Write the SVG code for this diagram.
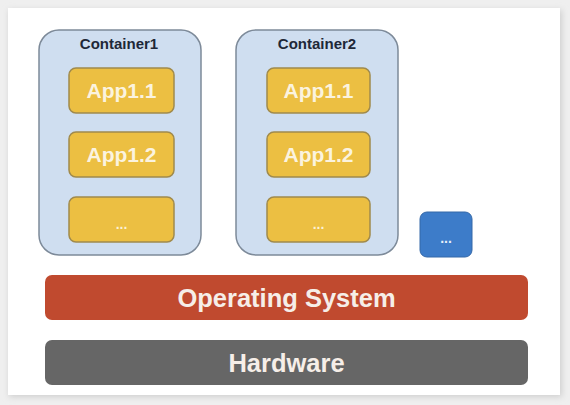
<svg xmlns="http://www.w3.org/2000/svg" width="570" height="405" viewBox="0 0 570 405">
<defs>
<style>
.container{fill:#cfdef0;stroke:#7d8a99;stroke-width:1.5}
.app{fill:#ecbf42;stroke:#a08a4c;stroke-width:1.5}
.title{font-family:"Liberation Sans",Arial,sans-serif;font-weight:bold;font-size:15px;fill:#1e2838;text-anchor:middle}
.apptxt{font-family:"Liberation Sans",Arial,sans-serif;font-weight:bold;font-size:21px;fill:#fbf3df;text-anchor:middle}
.dots{font-family:"Liberation Sans",Arial,sans-serif;font-weight:bold;font-size:14px;fill:#fbf0d4;text-anchor:middle}
.bartxt{font-family:"Liberation Sans",Arial,sans-serif;font-weight:bold;font-size:25.5px;fill:#f6eee8;text-anchor:middle}
</style>
<filter id="sh" x="-5%" y="-5%" width="110%" height="110%">
<feGaussianBlur stdDeviation="3"/>
</filter>
</defs>
<rect x="0" y="0" width="570" height="405" fill="#efefef"/>
<rect x="9" y="10" width="553" height="387" fill="#cfcfcf" filter="url(#sh)"/>
<rect x="8" y="8" width="552" height="387" fill="#ffffff"/>
<g id="container1">
<rect class="container" x="39" y="30" width="162" height="225" rx="20"/>
<text class="title" x="119" y="48.5">Container1</text>
<rect class="app" x="69" y="68" width="105" height="45" rx="7"/>
<text class="apptxt" x="121.5" y="98">App1.1</text>
<rect class="app" x="69" y="132" width="105" height="45" rx="7"/>
<text class="apptxt" x="121.5" y="162">App1.2</text>
<rect class="app" x="69" y="197" width="105" height="45" rx="7"/>
<text class="dots" x="121.5" y="229">...</text>
</g>
<g id="container2">
<rect class="container" x="236" y="30" width="162" height="225" rx="20"/>
<text class="title" x="317" y="48.5">Container2</text>
<rect class="app" x="267" y="68" width="103" height="45" rx="7"/>
<text class="apptxt" x="318.5" y="98">App1.1</text>
<rect class="app" x="267" y="132" width="103" height="45" rx="7"/>
<text class="apptxt" x="318.5" y="162">App1.2</text>
<rect class="app" x="267" y="197" width="103" height="45" rx="7"/>
<text class="dots" x="318.5" y="229">...</text>
</g>
<g id="more">
<rect x="420" y="212" width="52" height="45" rx="7" fill="#3d7cc9" stroke="#3468a8" stroke-width="1"/>
<text class="dots" x="446" y="243" style="fill:#e8f0fa">...</text>
</g>
<g id="os">
<rect x="45" y="275" width="483" height="45" rx="7" fill="#c04a2f"/>
<text class="bartxt" x="286.5" y="306.5">Operating System</text>
</g>
<g id="hardware">
<rect x="45" y="340" width="483" height="45" rx="7" fill="#666666"/>
<text class="bartxt" x="286.5" y="371.5">Hardware</text>
</g>
<g id="connectors"/>
</svg>
